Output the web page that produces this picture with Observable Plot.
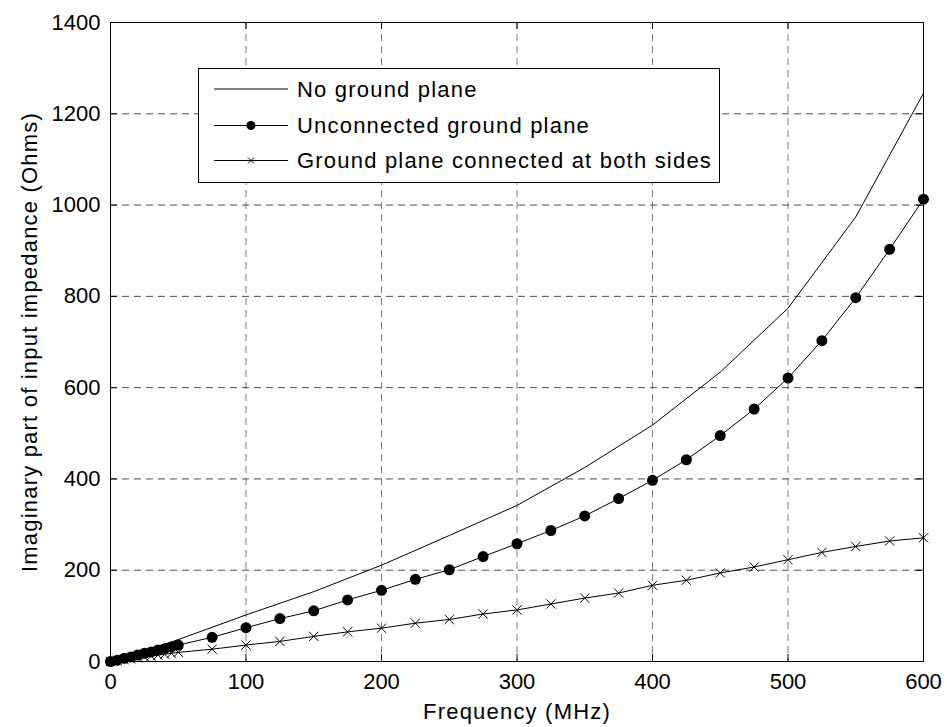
<!DOCTYPE html>
<html>
<head>
<meta charset="utf-8">
<script src="https://cdn.jsdelivr.net/npm/d3@7"></script>
<script src="https://cdn.jsdelivr.net/npm/@observablehq/plot@0.6"></script>
<style>
  html, body { margin: 0; padding: 0; background: #fff; }
  svg { display: block; }
</style>
</head>
<body>
<div id="chart"></div>
<script>
// Imaginary part of the input impedance versus frequency, three ground-plane configurations.
const freqNoGround = [0, 10, 20, 30, 40, 50, 100, 150, 200, 250, 300, 350, 400, 450, 500, 550, 600];
const zNoGround    = [0, 9, 19, 28, 38, 48, 102, 153, 211, 276, 342, 425, 518, 634, 774, 974, 1245];

const freqSampled = [0, 5, 10, 15, 20, 25, 30, 35, 40, 45, 50,
  75, 100, 125, 150, 175, 200, 225, 250, 275, 300, 325, 350, 375, 400,
  425, 450, 475, 500, 525, 550, 575, 600];
const zUnconnected = [0, 3, 7, 10, 14, 18, 21, 25, 28, 32, 36,
  53, 74, 94, 111, 135, 156, 180, 201, 230, 258, 287, 319, 357, 397,
  442, 495, 553, 621, 703, 797, 903, 1013];
const zConnected = [0, 2, 4, 6, 8, 10, 12, 14, 16, 18, 20,
  27, 36, 44, 55, 65, 73, 84, 92, 104, 113, 126, 139, 150, 167,
  178, 194, 207, 223, 239, 252, 264, 271];

const seriesNames = ["No ground plane", "Unconnected ground plane", "Ground plane connected at both sides"];
const xTicks = [0, 100, 200, 300, 400, 500, 600];
const yTicks = [0, 200, 400, 600, 800, 1000, 1200, 1400];
const xLabel = "Frequency (MHz)";
const yLabel = "Imaginary part of input impedance (Ohms)";

const noGround = freqNoGround.map((f, i) => ({f, z: zNoGround[i]}));
const unconnected = freqSampled.map((f, i) => ({f, z: zUnconnected[i]}));
const connected = freqSampled.map((f, i) => ({f, z: zConnected[i]}));

const W = 947, H = 727;
const mL = 110, mR = 24, mT = 22, mB = 66;
const innerW = W - mL - mR, innerH = H - mT - mB;
const tick = 7;
const fs = 22;
const font = "'Liberation Sans', Arial, sans-serif";

const svg = Plot.plot({
  width: W, height: H,
  marginLeft: mL, marginRight: mR, marginTop: mT, marginBottom: mB,
  style: {fontFamily: font, background: "white", color: "black"},
  x: {domain: [0, 600]},
  y: {domain: [0, 1400]},
  marks: [
    Plot.gridX(xTicks, {stroke: "#7a7a7a", strokeOpacity: 1, strokeDasharray: "7,5"}),
    Plot.gridY(yTicks, {stroke: "#4a4a4a", strokeOpacity: 1, strokeDasharray: "7,5"}),
    // inward ticks on all four sides
    Plot.ruleX(xTicks, {insetTop: innerH - tick, stroke: "black"}),
    Plot.ruleX(xTicks, {insetBottom: innerH - tick, stroke: "black"}),
    Plot.ruleY(yTicks, {insetRight: innerW - tick, stroke: "black"}),
    Plot.ruleY(yTicks, {insetLeft: innerW - tick, stroke: "black"}),
    Plot.axisX(xTicks, {tickSize: 0, tickPadding: 12, fontSize: fs, tickFormat: "d", label: null}),
    Plot.axisY(yTicks, {tickSize: 0, tickPadding: 10, fontSize: fs, tickFormat: "d", label: null}),
    Plot.line(noGround, {x: "f", y: "z", stroke: "black", strokeWidth: 1}),
    Plot.line(unconnected, {x: "f", y: "z", stroke: "black", strokeWidth: 1}),
    Plot.dot(unconnected, {x: "f", y: "z", r: 5.5, fill: "black", stroke: null}),
    Plot.line(connected, {x: "f", y: "z", stroke: "black", strokeWidth: 1}),
    Plot.dot(connected, {x: "f", y: "z", r: 4.3, symbol: "times", stroke: "black", strokeWidth: 1}),
    Plot.frame({stroke: "black", strokeWidth: 1}),
    Plot.text([xLabel], {text: d => d, frameAnchor: "bottom", lineAnchor: "middle", textAnchor: "middle",
      dy: 50, fontSize: fs, fill: "black"}),
    Plot.text([yLabel], {text: d => d, frameAnchor: "left", lineAnchor: "middle", textAnchor: "middle",
      rotate: -90, dx: -81, fontSize: fs, fill: "black"})
  ]
});

// wider tracking for the worded labels
d3.select(svg).selectAll("g[aria-label=text] text").attr("letter-spacing", 1.2);

// legend box in the upper-left of the plot area
const lg = d3.select(svg).append("g").attr("class", "legend")
  .attr("font-family", font).attr("font-size", fs).attr("text-anchor", "start");
lg.append("rect").attr("x", 198.5).attr("y", 68.5).attr("width", 521).attr("height", 114)
  .attr("fill", "white").attr("stroke", "black").attr("stroke-width", 1);
const rows = [89, 125.5, 160.5];
seriesNames.forEach((name, i) => {
  const y = rows[i];
  lg.append("line").attr("x1", 214).attr("x2", 288).attr("y1", y).attr("y2", y)
    .attr("stroke", "black").attr("stroke-width", 1);
  if (i === 1) {
    lg.append("circle").attr("cx", 251).attr("cy", y).attr("r", 4.5).attr("fill", "black");
  } else if (i === 2) {
    lg.append("path").attr("d", `M${248},${y - 3}L${254},${y + 3}M${248},${y + 3}L${254},${y - 3}`)
      .attr("stroke", "black").attr("stroke-width", 1);
  }
  lg.append("text").attr("x", 297).attr("y", y).attr("dy", "0.35em")
    .attr("letter-spacing", 1.2).attr("fill", "black").text(name);
});

document.getElementById("chart").appendChild(svg);
</script>
</body>
</html>
